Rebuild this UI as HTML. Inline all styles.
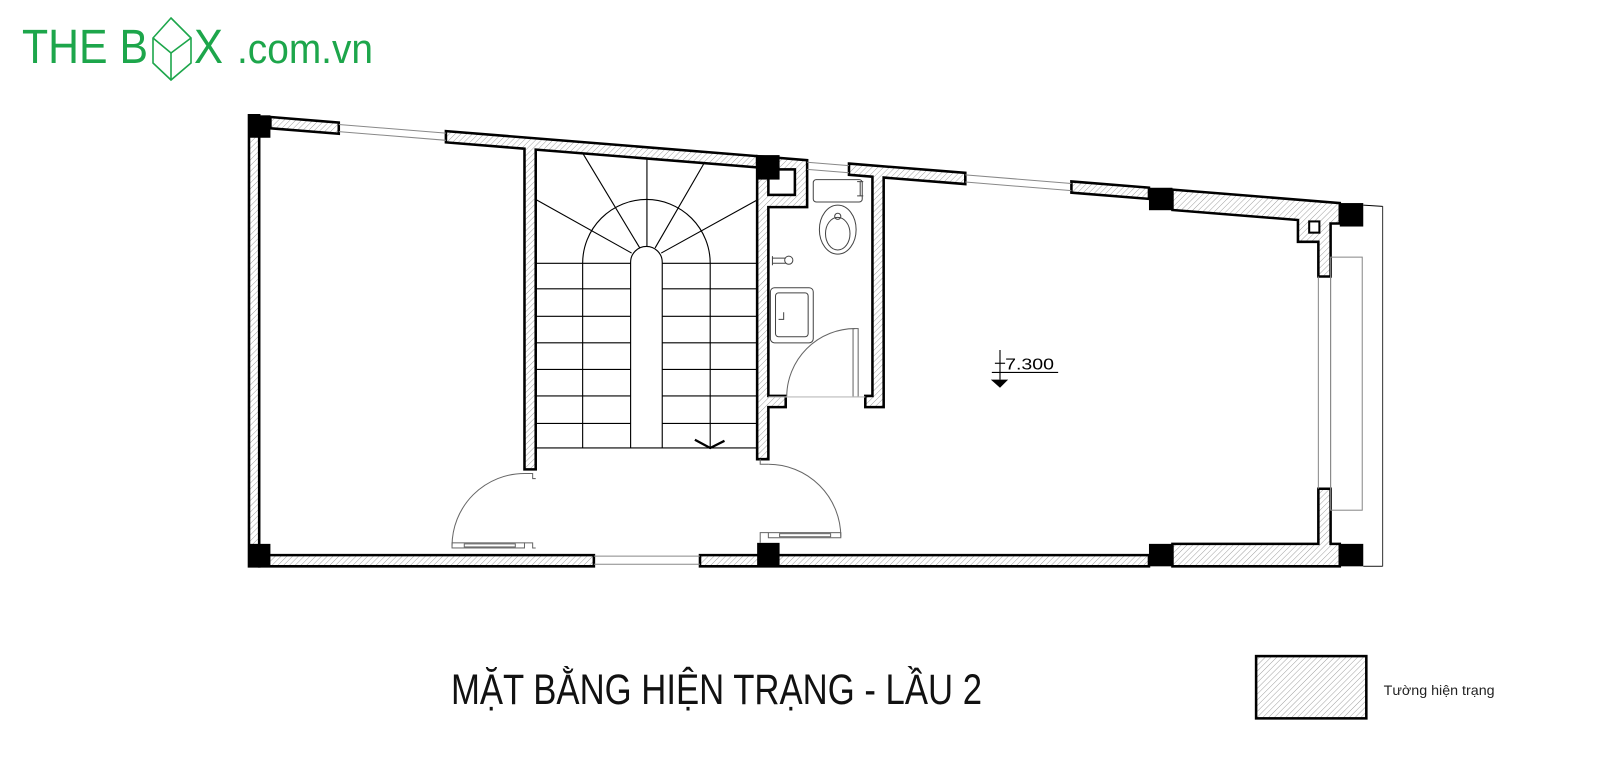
<!DOCTYPE html>
<html><head><meta charset="utf-8"><style>html,body{margin:0;padding:0;background:#fff}svg{display:block}</style></head>
<body>
<svg width="1600" height="784" viewBox="0 0 1600 784" xmlns="http://www.w3.org/2000/svg">
<defs>
<pattern id="h" patternUnits="userSpaceOnUse" width="4" height="4" patternTransform="rotate(45)">
<rect width="4" height="4" fill="#fff"/><line x1="0" y1="0" x2="0" y2="4" stroke="#9a9a9a" stroke-width="0.9"/>
</pattern>
</defs>
<rect width="1600" height="784" fill="#fff"/>
<g fill="#1da64b" font-family="Liberation Sans, sans-serif">
<text x="22" y="63" font-size="48" textLength="126" lengthAdjust="spacingAndGlyphs">THE B</text>
<text x="194" y="63" font-size="48" textLength="29" lengthAdjust="spacingAndGlyphs">X</text>
<text x="237" y="63" font-size="42" textLength="136" lengthAdjust="spacingAndGlyphs">.com.vn</text>
</g>
<g fill="none" stroke="#1da64b" stroke-width="1.6">
<polygon points="171,18 191,38 191,63 171,80 153,63 153,38"/>
<polyline points="153,38 171,53 191,38"/><line x1="171" y1="53" x2="171" y2="80"/>
</g>
<text x="451" y="704" font-family="Liberation Sans, sans-serif" font-size="43" fill="#111" textLength="531" lengthAdjust="spacingAndGlyphs">MẶT BẰNG HIỆN TRẠNG - LẦU 2</text>

<g transform="scale(1.0204)">
<g stroke="#000" stroke-width="2.5" fill="url(#h)" stroke-linejoin="miter">
<polygon points="244,113 254,113 254,555 244,555"/>
<polygon points="265,114.7 332,120.1 332,131.1 265,125.7"/>
<polygon points="437,128.5 742,153 742,164 525,146.6 525,460 514,460 514,145.7 437,139.5"/>
<polygon points="742,153 791,157 791,203 753,203 753,388 770,388 770,399 753,399 753,450 742,450"/>
<polygon points="832,160.3 946,169.4 946,180.4 866,174 866,399 848,399 848,388 855,388 855,173.2 832,171.3"/>
<polygon points="1050,177.8 1126,183.9 1126,194.9 1050,188.8"/>
<polygon points="1149,185.8 1313,199 1313,219 1304,219 1304,271 1292,271 1292,237 1272,237 1272,215.6 1149,205.8"/>
<polygon points="1292,479 1304,479 1304,533 1313,533 1313,555 1149,555 1149,533 1292,533"/>
<polygon points="254,544 582,544 582,555 254,555"/>
<polygon points="686,544 1126,544 1126,555 686,555"/>
</g>
<rect x="753" y="166" width="26" height="25" fill="#fff" stroke="#000" stroke-width="2.5"/>
<rect x="1283" y="217" width="10" height="11" fill="#fff" stroke="#000" stroke-width="2"/>
<g fill="#000">
<rect x="244" y="113" width="21" height="22"/>
<rect x="742" y="152" width="22" height="24"/>
<rect x="1126" y="184" width="23" height="22"/>
<rect x="1313" y="199" width="23" height="23"/>
<rect x="244" y="533" width="21" height="22"/>
<rect x="742" y="532" width="22" height="23"/>
<rect x="1126" y="533" width="23" height="22"/>
<rect x="1313" y="533" width="23" height="22"/>
</g>
<g stroke="#888" stroke-width="1" fill="none">
<line x1="332" y1="122" x2="437" y2="130.5"/><line x1="332" y1="129" x2="437" y2="137.5"/>
<line x1="791" y1="159" x2="832" y2="162.3"/><line x1="791" y1="166" x2="832" y2="169.3"/>
<line x1="946" y1="171.4" x2="1050" y2="179.8"/><line x1="946" y1="178.4" x2="1050" y2="186.8"/>
<line x1="582" y1="545" x2="686" y2="545"/><line x1="582" y1="553" x2="686" y2="553"/>
<line x1="1292" y1="271" x2="1292" y2="479"/><line x1="1304" y1="271" x2="1304" y2="479"/>
<rect x="1304" y="252" width="31" height="248"/>
</g>
<line x1="1336" y1="201" x2="1355" y2="202.3" stroke="#000" stroke-width="1"/>
<line x1="1355" y1="202" x2="1355" y2="555" stroke="#333" stroke-width="1"/>
<line x1="1336" y1="555" x2="1355" y2="555" stroke="#333" stroke-width="1"/>
<g stroke="#000" stroke-width="1.1" fill="none">
<line x1="525" y1="258" x2="618" y2="258"/><line x1="649" y1="258" x2="742" y2="258"/>
<line x1="525" y1="283" x2="618" y2="283"/><line x1="649" y1="283" x2="742" y2="283"/>
<line x1="525" y1="310" x2="618" y2="310"/><line x1="649" y1="310" x2="742" y2="310"/>
<line x1="525" y1="336" x2="618" y2="336"/><line x1="649" y1="336" x2="742" y2="336"/>
<line x1="525" y1="362" x2="618" y2="362"/><line x1="649" y1="362" x2="742" y2="362"/>
<line x1="525" y1="388" x2="618" y2="388"/><line x1="649" y1="388" x2="742" y2="388"/>
<line x1="525" y1="415" x2="618" y2="415"/><line x1="649" y1="415" x2="742" y2="415"/>
<line x1="525" y1="439" x2="742" y2="439"/>
<path d="M618,439 L618,257 A15.5,15.5 0 0 1 649,257 L649,439"/>
<path d="M571,439 L571,258 A62.5,62.5 0 0 1 696,258 L696,439"/>
<line x1="619" y1="248" x2="526" y2="196"/>
<line x1="627" y1="243" x2="571" y2="150"/>
<line x1="634" y1="242" x2="634" y2="156"/>
<line x1="642" y1="243" x2="690" y2="160"/>
<line x1="648" y1="248" x2="742" y2="196"/>
</g>
<polyline points="681,431 696,439 710,432" fill="none" stroke="#000" stroke-width="2.2"/>
<g stroke="#666" stroke-width="1" fill="none">
<path d="M443,535 A71,71 0 0 1 514,464"/>
<rect x="443" y="532" width="71" height="5"/><rect x="455" y="533" width="50" height="3"/>
<path d="M514,464 L522,464 L522,469 L525,469"/><path d="M514,532 L522,532 L522,537 L525,537"/>
<path d="M824,526 A71,71 0 0 0 753,455"/>
<rect x="753" y="522" width="71" height="5"/><rect x="764" y="523" width="50" height="3"/>
<path d="M753,455 L745,455 L745,450"/><path d="M753,522 L745,522 L745,532"/>
<path d="M771,389 A67,67 0 0 1 838,322"/>
<rect x="836" y="322" width="5" height="67"/>
<line x1="753" y1="389" x2="848" y2="389" stroke="#bbb"/>
</g>
<g stroke="#444" stroke-width="1" fill="none">
<rect x="797" y="176" width="48" height="22" rx="3"/>
<ellipse cx="821" cy="225" rx="18" ry="24"/>
<ellipse cx="821" cy="229" rx="12" ry="16"/>
<circle cx="821" cy="212" r="3"/>
<path d="M840,178 L846,178 M843,178 L843,192 M840,192 L846,192"/>
<rect x="755" y="282" width="42" height="54" rx="4"/>
<rect x="760" y="287" width="32" height="43" rx="3"/>
<path d="M757,253 L770,253 M757,258 L770,258 M757,251 L757,260"/><circle cx="773" cy="255" r="4"/>
<path d="M763,313 L768,313 L768,306" />
</g>
<g stroke="#000" stroke-width="1.1" fill="none">
<line x1="972" y1="365" x2="1037" y2="365"/>
<line x1="980" y1="343" x2="980" y2="372"/>
<line x1="975" y1="356" x2="985" y2="356"/>
</g>
<polygon points="971,372 988,372 980,380" fill="#000"/>
<text x="985" y="362" font-family="Liberation Sans, sans-serif" font-size="15" fill="#000" textLength="48" lengthAdjust="spacingAndGlyphs">7.300</text>
<rect x="1231" y="643" width="108" height="61" fill="url(#h)" stroke="#000" stroke-width="2.5"/>
<text x="1356" y="681" font-family="Liberation Sans, sans-serif" font-size="14" fill="#222">Tường hiện trạng</text>
</g>
</svg>
</body></html>
